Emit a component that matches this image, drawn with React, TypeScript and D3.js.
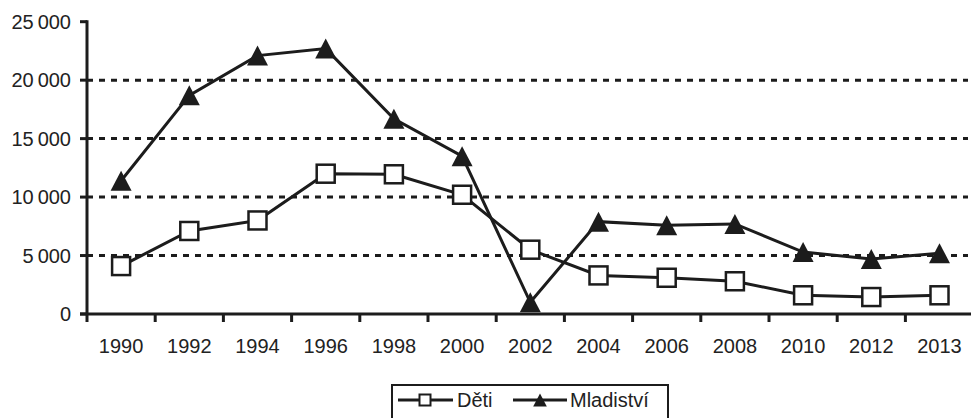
import React from "react";
import * as d3 from "d3";

const years = ["1990","1992","1994","1996","1998","2000","2002","2004","2006","2008","2010","2012","2013"];
const deti = [4100, 7100, 8000, 12000, 11950, 10200, 5500, 3300, 3100, 2800, 1600, 1450, 1600];
const mladistvi = [11400, 18700, 22100, 22700, 16700, 13500, 1000, 7900, 7600, 7700, 5300, 4700, 5200];
const yTicks = [0, 5000, 10000, 15000, 20000, 25000];
const seriesNames = ["Děti", "Mladiství"];

const W = 971, H = 418;
const FONT = "'Liberation Sans', Arial, sans-serif";
const INK = "#1c1c1c";

export default function App() {
  const x0 = 87;
  const step = 68.2;
  const x = d3.scaleBand<string>().domain(years).range([x0, x0 + step * years.length]).paddingInner(0).paddingOuter(0);
  const y = d3.scaleLinear().domain([0, 25000]).range([314, 21.7]);
  const cx = (yr: string) => (x(yr) as number) + x.bandwidth() / 2;
  const line = d3.line<number>().x((_, i) => cx(years[i])).y((v) => y(v));
  const fmt = (v: number) => v >= 1000 ? `${Math.floor(v / 1000)}\u2009${String(v % 1000).padStart(3, "0")}` : String(v);
  const tri = d3.symbol().type(d3.symbolTriangle);
  const triPath = (s: number) => {
    const h = s, w = s * 1.05;
    return `M0,${-h / 2}L${w / 2},${h / 2}L${-w / 2},${h / 2}Z`;
  };
  const xEdges = years.map((yr) => x(yr) as number).concat([x0 + step * years.length]);

  return (
    <svg width={W} height={H} style={{ position: "absolute", left: 0, top: 0, background: "#fff" }} fontFamily={FONT}>
      {/* gridlines */}
      {yTicks.filter((t) => t > 0 && t < 25000).map((t) => (
        <line key={t} x1={x0} x2={968} y1={y(t)} y2={y(t)} stroke={INK} strokeWidth={3} strokeDasharray="6,6" />
      ))}
      {/* y axis */}
      <line x1={x0} x2={x0} y1={y(25000) - 1.5} y2={y(0)} stroke={INK} strokeWidth={3} />
      {yTicks.map((t) => (
        <g key={t}>
          <line x1={80} x2={x0} y1={y(t)} y2={y(t)} stroke={INK} strokeWidth={3} />
          <text x={71} y={y(t)} dy="0.36em" textAnchor="end" fontSize={20} fill="#222">{fmt(t)}</text>
        </g>
      ))}
      {/* x axis */}
      <line x1={x0 - 7} x2={W} y1={y(0)} y2={y(0)} stroke={INK} strokeWidth={3} />
      {xEdges.map((ex, i) => (
        <line key={i} x1={ex} x2={ex} y1={y(0)} y2={y(0) + 8} stroke={INK} strokeWidth={3} />
      ))}
      {years.map((yr) => (
        <text key={yr} x={cx(yr)} y={353} textAnchor="middle" fontSize={20} fill="#222">{yr}</text>
      ))}
      {/* lines */}
      <path d={line(deti) as string} fill="none" stroke={INK} strokeWidth={3} />
      <path d={line(mladistvi) as string} fill="none" stroke={INK} strokeWidth={3} />
      {/* markers */}
      {mladistvi.map((v, i) => (
        <path key={"m" + i} d={triPath(20)} transform={`translate(${cx(years[i])},${y(v)})`} fill={INK} />
      ))}
      {deti.map((v, i) => (
        <rect key={"d" + i} x={cx(years[i]) - 9} y={y(v) - 9} width={18} height={18} fill="#fff" stroke={INK} strokeWidth={2.5} />
      ))}
      {/* legend */}
      <rect x={392} y={385} width={276} height={50} fill="#fff" stroke={INK} strokeWidth={2} />
      <line x1={398} x2={453} y1={400} y2={400} stroke={INK} strokeWidth={3} />
      <rect x={419.5} y={394.5} width={11} height={11} fill="#fff" stroke={INK} strokeWidth={2} />
      <text x={457} y={400} dy="0.36em" fontSize={20} fill="#222">{seriesNames[0]}</text>
      <line x1={513} x2={567} y1={400} y2={400} stroke={INK} strokeWidth={3} />
      <path d={triPath(13)} transform="translate(540,400)" fill={INK} />
      <text x={570} y={400} dy="0.36em" fontSize={20} fill="#222">{seriesNames[1]}</text>
    </svg>
  );
}
